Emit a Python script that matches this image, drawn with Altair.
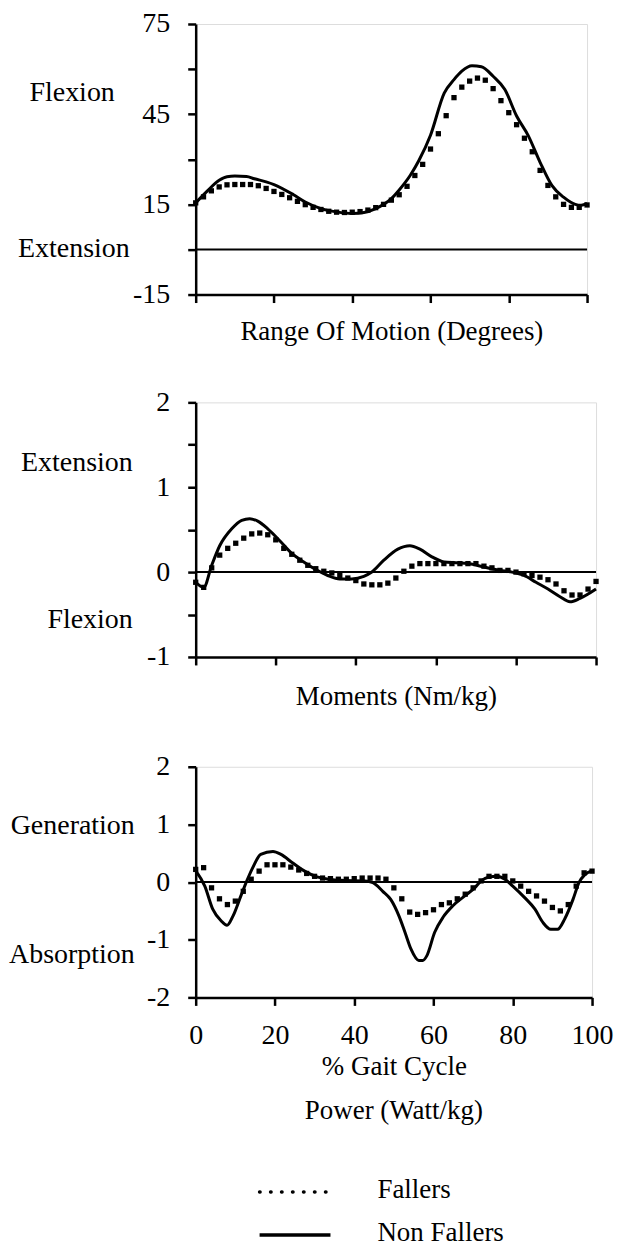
import altair as alt
import pandas as pd

FONT = "Liberation Serif, Times New Roman, Times, serif"

# ---------------- data ----------------
X_TICKS = [0, 20, 40, 60, 80, 100]
X_FALL = list(range(0, 101, 2))

# Range of motion (degrees)
ROM_NF_X = [0, 3, 6, 8, 10, 13, 15, 18, 20, 25, 28, 32, 36, 40, 43, 46, 50, 52, 54.8, 57, 60, 63.5,
            66, 68, 70.6, 73, 76, 79, 82, 85, 88, 91, 94, 97, 98.5, 100]
ROM_NF = [15.5, 19.5, 23, 24.2, 24.4, 24.3, 23.5, 22.5, 21.6, 18.2, 15.8, 13.6, 12.5, 12, 12.3, 13.6, 16.9,
          19.8, 24.6, 29.5, 38, 52, 56.5, 59.3, 61.1, 60.8, 57.6, 53.2, 44.4, 37.8, 29, 21.3, 17.4, 15,
          14.7, 15.3]
ROM_F = [15.5, 17.5, 19.5, 20.8, 21.5, 21.6, 21.6, 21.6, 21.2, 20.3, 19.3, 18.3, 17.2, 16, 14.9, 14,
         13.3, 12.7, 12.4, 12.3, 12.4, 12.6, 13.1, 13.9, 15, 16.4, 18.2, 21, 24.6, 28.3, 33.4, 38.5,
         44.5, 50.5, 54, 56, 57, 56.3, 53.5, 49.5, 45.5, 41.5, 37, 32.5, 26.3, 21.3, 17.5, 15, 14, 14,
         14.8]

# Moments (Nm/kg)
MOM_NF_X = [0, 2, 4, 6, 9, 11.5, 13.5, 15.5, 18, 21, 24, 27, 30, 33, 36, 39, 42, 44, 47, 50.5, 53.5,
            56, 59, 62, 65, 68, 72, 76, 79, 82, 85, 88, 91, 93.5, 96, 100]
MOM_NF = [-0.12, -0.18, 0.08, 0.31, 0.51, 0.61, 0.63, 0.6, 0.51, 0.37, 0.22, 0.12, 0.03, -0.04, -0.08,
          -0.08, -0.05, 0.0, 0.14, 0.27, 0.31, 0.27, 0.18, 0.12, 0.11, 0.1, 0.06, 0.02, 0.0, -0.04,
          -0.12, -0.2, -0.29, -0.35, -0.31, -0.2]
MOM_F = [-0.12, -0.18, 0.05, 0.2, 0.28, 0.34, 0.4, 0.45, 0.46, 0.44, 0.38, 0.28, 0.21, 0.14, 0.08,
         0.04, 0.01, -0.01, -0.04, -0.07, -0.1, -0.14, -0.15, -0.15, -0.13, -0.07, 0.01, 0.07, 0.1,
         0.1, 0.1, 0.1, 0.1, 0.1, 0.1, 0.1, 0.07, 0.05, 0.02, 0.02, 0.0, -0.02, -0.04, -0.06, -0.09,
         -0.14, -0.22, -0.27, -0.27, -0.2, -0.11]

# Power (Watt/kg)
POW_NF_X = [0, 2.3, 4.3, 6.4, 7.9, 9.4, 11.4, 12.9, 14.4, 16.4, 19.5, 21.5, 24.5, 27.5, 30.6, 33.6,
            36.6, 42.7, 44.7, 47.2, 49.2, 51.3, 52.8, 54.3, 56.3, 57.3, 58.3, 60.3, 62.4, 64.9, 67.9,
            70.4, 72, 74, 76, 78, 80, 83, 85.6, 87.6, 89.6, 91.3, 93.1, 95.2, 96.7, 98.2, 100]
POW_NF = [0.2, -0.07, -0.47, -0.67, -0.75, -0.59, -0.24, 0.02, 0.25, 0.48, 0.53, 0.48, 0.33, 0.19,
          0.09, 0.05, 0.03, 0.02, -0.01, -0.16, -0.3, -0.59, -0.87, -1.16, -1.36, -1.36, -1.28, -0.87,
          -0.61, -0.41, -0.24, -0.1, 0.02, 0.09, 0.1, 0.05, -0.07, -0.27, -0.47, -0.7, -0.82, -0.82,
          -0.64, -0.3, -0.01, 0.13, 0.2]
POW_F = [0.22, 0.25, -0.1, -0.29, -0.39, -0.33, -0.16, 0.05, 0.19, 0.3, 0.3, 0.3, 0.26, 0.21, 0.15,
         0.1, 0.07, 0.06, 0.05, 0.05, 0.06, 0.07, 0.07, 0.07, 0.05, -0.1, -0.29, -0.52, -0.56, -0.53,
         -0.48, -0.39, -0.36, -0.29, -0.21, -0.1, 0.02, 0.1, 0.1, 0.1, 0.02, -0.07, -0.16, -0.24,
         -0.33, -0.44, -0.5, -0.39, -0.07, 0.16, 0.19]

ROM_WORDS = ["Flexion", "Extension"]
ROM_WORD_Y = [52, 0]
MOM_WORDS = ["Extension", "Flexion"]
MOM_WORD_Y = [1.28, -0.56]
POW_WORDS = ["Generation", "Absorption"]
POW_WORD_Y = [0.97, -1.27]

TITLES = ["Range Of Motion (Degrees)", "Moments (Nm/kg)", "% Gait Cycle", "Power (Watt/kg)"]
LEGEND_LABELS = ["Fallers", "Non Fallers"]


def num_label(cond):
    return (f"{cond} ? (datum.value < 0 ? '-' + (-datum.value) : '' + datum.value) : ''")


def panel(nf_x, nf_y, f_y, ydom, ytick_vals, ylab_cond, xtitle, xlabels, title_pad,
          words, word_y, word_x):
    nf = pd.DataFrame({"x": nf_x, "y": nf_y})
    fa = pd.DataFrame({"x": X_FALL, "y": f_y})
    xs = alt.Scale(domain=[0, 100], nice=False, zero=False)
    ys = alt.Scale(domain=ydom, nice=False, zero=False)
    xaxis = alt.Axis(values=X_TICKS, labels=xlabels, title=xtitle, grid=False,
                     tickSize=8, tickWidth=2.5, tickColor="black", domainColor="black",
                     domainWidth=2.5, labelFont=FONT, labelFontSize=28, labelColor="black",
                     labelPadding=16, labelFlush=False, labelOverlap=False,
                     titleFont=FONT, titleFontSize=27, titleFontWeight="normal",
                     titleColor="black", titlePadding=title_pad)
    yaxis = alt.Axis(values=ytick_vals, labelExpr=num_label(ylab_cond), title=None, grid=False,
                     tickSize=8, tickWidth=2.5, tickColor="black", domainColor="black",
                     domainWidth=2.5, labelFont=FONT, labelFontSize=28, labelColor="black",
                     labelPadding=18, labelOverlap=False, labelFlush=False)
    line = alt.Chart(nf).mark_line(color="black", strokeWidth=3, interpolate="monotone").encode(
        x=alt.X("x:Q", scale=xs, axis=xaxis),
        y=alt.Y("y:Q", scale=ys, axis=yaxis),
    )
    dots = alt.Chart(fa).mark_square(color="black", size=28, opacity=1).encode(
        x="x:Q", y="y:Q")
    zero = alt.Chart(pd.DataFrame({"y": [0]})).mark_rule(color="black", strokeWidth=2).encode(
        y="y:Q")
    wd = alt.Chart(pd.DataFrame({"t": words, "y": word_y})).mark_text(
        align="right", baseline="middle", font=FONT, fontSize=28, color="black").encode(
        x=alt.value(word_x), y="y:Q", text="t:N")
    return [line, dots, zero, wd]


top_layers = panel(ROM_NF_X, ROM_NF, ROM_F, [-15, 75], [-15, 0, 15, 30, 45, 60, 75],
                   "(datum.value - 15) % 30 == 0", TITLES[0], False, 15,
                   ROM_WORDS, ROM_WORD_Y, -66)
# the Flexion label sits further from the axis than Extension
top_layers[3] = alt.Chart(pd.DataFrame({"t": ROM_WORDS, "y": ROM_WORD_Y,
                                        "dx": [-81, -66]})).mark_text(
    align="right", baseline="middle", font=FONT, fontSize=28, color="black").encode(
    x=alt.X("dx:Q", scale=None), y="y:Q", text="t:N")
top = alt.layer(*top_layers).properties(width=392, height=271)

mid = alt.layer(*panel(MOM_NF_X, MOM_NF, MOM_F, [-1, 2], [-1, -0.5, 0, 0.5, 1, 1.5, 2],
                       "datum.value % 1 == 0", TITLES[1], False, 17,
                       MOM_WORDS, MOM_WORD_Y, -63)).properties(width=401, height=255)

leg = pd.DataFrame({"label": LEGEND_LABELS})
power_title = alt.Chart(pd.DataFrame({"t": [TITLES[3]]})).mark_text(
    align="center", baseline="middle", font=FONT, fontSize=27, color="black").encode(
    x=alt.value(397 / 2), y=alt.value(345), text="t:N")
leg_dot = alt.Chart(leg.iloc[[0]]).mark_rule(
    color="black", strokeWidth=3.5, strokeDash=[0.5, 10.5], strokeCap="round").encode(
    x=alt.value(64), x2=alt.value(131), y=alt.value(426))
leg_solid = alt.Chart(leg.iloc[[1]]).mark_rule(color="black", strokeWidth=3.5).encode(
    x=alt.value(64), x2=alt.value(135), y=alt.value(469))
leg_t1 = alt.Chart(leg.iloc[[0]]).mark_text(
    align="left", baseline="middle", font=FONT, fontSize=27, color="black").encode(
    x=alt.value(182), y=alt.value(424), text="label:N")
leg_t2 = alt.Chart(leg.iloc[[1]]).mark_text(
    align="left", baseline="middle", font=FONT, fontSize=27, color="black").encode(
    x=alt.value(182), y=alt.value(467), text="label:N")

bot = alt.layer(*panel(POW_NF_X, POW_NF, POW_F, [-2, 2], [-2, -1.5, -1, -0.5, 0, 0.5, 1, 1.5, 2],
                       "datum.value % 1 == 0", TITLES[2], True, 4,
                       POW_WORDS, POW_WORD_Y, -61),
                power_title, leg_dot, leg_solid, leg_t1, leg_t2).properties(width=397, height=231)

chart = alt.vconcat(top, mid, bot, spacing=42).properties(
    padding={"left": 0, "top": 0, "right": 5, "bottom": 2},
    background="white",
).configure_view(stroke="black", strokeWidth=2.5).configure(font=FONT)

chart.save("out.html", embed_options={"renderer": "svg", "actions": False})
